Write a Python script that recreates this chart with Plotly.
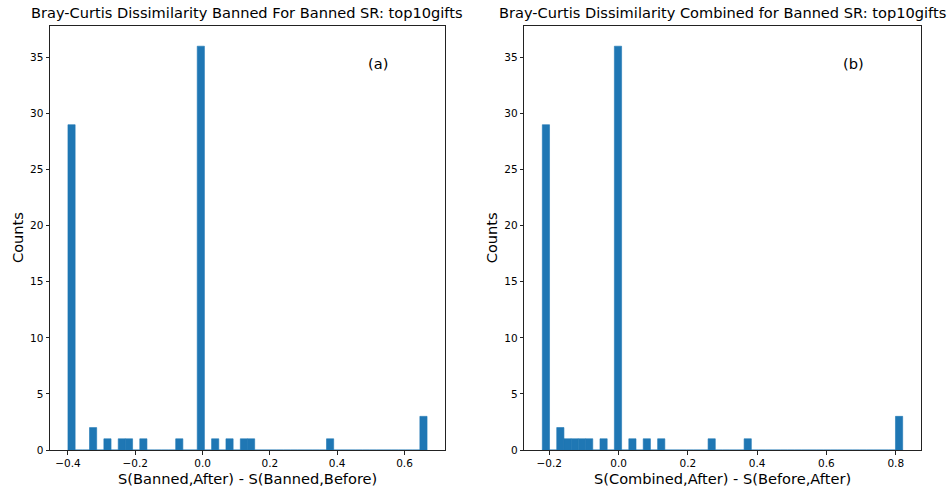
import numpy as np
import plotly.graph_objects as go

# Histogram of score differences, 50 equal bins between the min and max value
N_BINS = 50

# Panel (a): S(Banned,After) - S(Banned,Before)
a_min, a_max = -0.4, 0.667
a_counts = [29, 0, 0, 2, 0, 1, 0, 1, 1, 0,
            1, 0, 0, 0, 0, 1, 0, 0, 36, 0,
            1, 0, 1, 0, 1, 1, 0, 0, 0, 0,
            0, 0, 0, 0, 0, 0, 1, 0, 0, 0,
            0, 0, 0, 0, 0, 0, 0, 0, 0, 3]

# Panel (b): S(Combined,After) - S(Before,After)
b_min, b_max = -0.22, 0.82
b_counts = [29, 0, 2, 1, 1, 1, 1, 0, 1, 0,
            36, 0, 1, 0, 1, 0, 1, 0, 0, 0,
            0, 0, 0, 1, 0, 0, 0, 0, 1, 0,
            0, 0, 0, 0, 0, 0, 0, 0, 0, 0,
            0, 0, 0, 0, 0, 0, 0, 0, 0, 3]

a_ticks = [-0.4, -0.2, 0.0, 0.2, 0.4, 0.6]
b_ticks = [-0.2, 0.0, 0.2, 0.4, 0.6, 0.8]
y_ticks = [0, 5, 10, 15, 20, 25, 30, 35]

titles = ["Bray-Curtis Dissimilarity Banned For Banned SR: top10gifts",
          "Bray-Curtis Dissimilarity Combined for Banned SR: top10gifts"]
xlabels = ["S(Banned,After) - S(Banned,Before)",
           "S(Combined,After) - S(Before,After)"]
tags = ["(a)", "(b)"]

W, H = 949, 491
BAR = "#1f77b4"
FONT = "DejaVu Sans"
TXT = 14.6


def bins(lo, hi):
    edges = np.linspace(lo, hi, N_BINS + 1)
    return (edges[:-1] + edges[1:]) / 2, edges[1] - edges[0]


def padded(lo, hi, frac=0.05):
    span = hi - lo
    return [lo - frac * span, hi + frac * span]


fig = go.Figure()

panels = [
    (a_min, a_max, a_counts, a_ticks, "x", "y", [50, 445]),
    (b_min, b_max, b_counts, b_ticks, "x2", "y2", [524.3, 920.7]),
]

layout = dict(
    width=W, height=H,
    margin=dict(l=0, r=0, t=0, b=0, autoexpand=False),
    paper_bgcolor="white", plot_bgcolor="white",
    showlegend=False,
    font=dict(family=FONT, color="black"),
)

ann = []
y_dom = [(H - 450) / H, (H - 26) / H]
ymax = max(max(a_counts), max(b_counts)) * 1.05

for i, (lo, hi, counts, ticks, xa, ya, px) in enumerate(panels):
    centers, width = bins(lo, hi)
    fig.add_trace(go.Bar(x=centers, y=counts, width=width, xaxis=xa, yaxis=ya,
                         marker=dict(color=BAR, line=dict(width=0.6, color=BAR))))
    xdom = [px[0] / W, px[1] / W]
    axis_common = dict(showline=True, linecolor="#222", linewidth=1, mirror=True,
                       ticks="outside", ticklen=3.5, tickcolor="#222",
                       showgrid=False, zeroline=False, automargin=False,
                       tickfont=dict(family=FONT, size=10.5, color="black"))
    xkey = "xaxis" if xa == "x" else "xaxis2"
    ykey = "yaxis" if ya == "y" else "yaxis2"
    layout[xkey] = dict(domain=xdom, range=padded(lo, hi), tickvals=ticks,
                        tickformat=".1f", anchor=ya, **axis_common)
    layout[ykey] = dict(domain=y_dom, range=[0, ymax], tickvals=y_ticks,
                        anchor=xa, **axis_common)
    cx = (xdom[0] + xdom[1]) / 2
    ann.append(dict(text=titles[i], x=cx, y=1 - 13 / H, xref="paper", yref="paper",
                    xanchor="center", yanchor="middle", showarrow=False,
                    font=dict(family=FONT, size=TXT, color="black")))
    ann.append(dict(text=xlabels[i], x=cx, y=1 - 478 / H, xref="paper", yref="paper",
                    xanchor="center", yanchor="middle", showarrow=False,
                    font=dict(family=FONT, size=TXT, color="black")))
    ann.append(dict(text="Counts", x=(px[0] - 32) / W, y=(y_dom[0] + y_dom[1]) / 2,
                    xref="paper", yref="paper", textangle=-90,
                    xanchor="center", yanchor="middle", showarrow=False,
                    font=dict(family=FONT, size=TXT, color="black")))
    ann.append(dict(text=tags[i], x=xdom[0] + (xdom[1] - xdom[0]) * 0.83,
                    y=1 - 64 / H, xref="paper", yref="paper",
                    xanchor="center", yanchor="middle", showarrow=False,
                    font=dict(family=FONT, size=TXT, color="black")))

layout["annotations"] = ann
fig.update_layout(**layout)
fig.write_html("out.html")
